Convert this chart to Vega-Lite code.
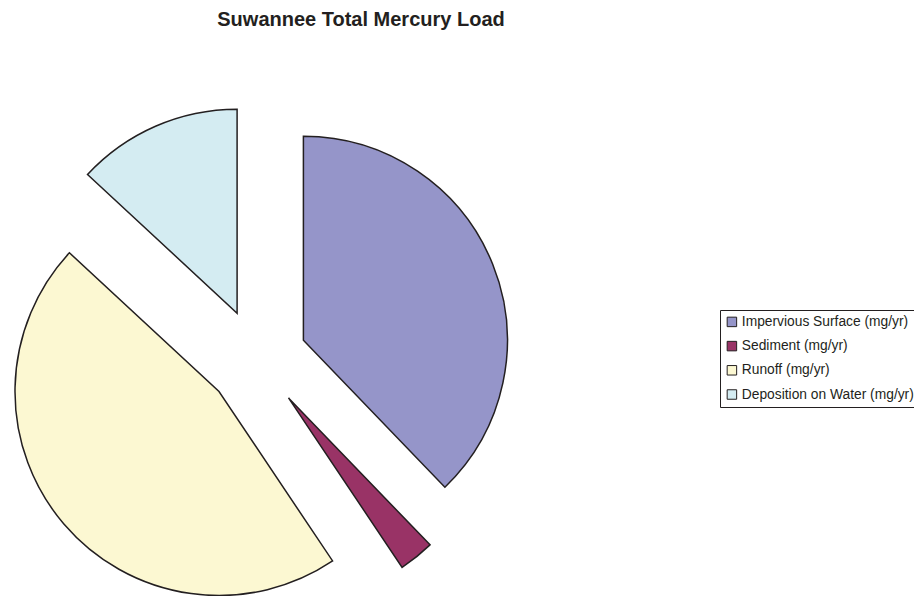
{
  "$schema": "https://vega.github.io/schema/vega-lite/v6.json",
  "autosize": "none",
  "width": 514,
  "height": 474,
  "padding": {"left": 0, "top": 122, "right": 400, "bottom": 0},
  "background": "white",
  "title": {
    "text": "Suwannee Total Mercury Load",
    "font": "Liberation Sans",
    "fontSize": 20,
    "fontWeight": "bold",
    "color": "#231f20",
    "anchor": "middle",
    "frame": "group",
    "baseline": "alphabetic",
    "offset": 60,
    "dx": 104
  },
  "data": {
    "values": [
      {"category": "Impervious Surface (mg/yr)", "value": 37.8, "order": 1},
      {"category": "Sediment (mg/yr)", "value": 2.8, "order": 2},
      {"category": "Runoff (mg/yr)", "value": 46.3, "order": 3},
      {"category": "Deposition on Water (mg/yr)", "value": 13.1, "order": 4}
    ]
  },
  "transform": [
    {"stack": "value", "groupby": [], "sort": [{"field": "order", "order": "ascending"}], "as": ["v0", "v1"]}
  ],
  "encoding": {
    "theta": {"field": "v0", "type": "quantitative", "scale": {"domain": [0, 100]}},
    "theta2": {"field": "v1"},
    "color": {
      "field": "category",
      "type": "nominal",
      "scale": {
        "domain": ["Impervious Surface (mg/yr)", "Sediment (mg/yr)", "Runoff (mg/yr)", "Deposition on Water (mg/yr)"],
        "range": ["#9595c9", "#993366", "#fcf8d2", "#d4ecf2"]
      },
      "legend": {
        "title": null,
        "orient": "none",
        "legendX": 720,
        "legendY": 188,
        "symbolType": "square",
        "symbolSize": 90,
        "symbolStrokeColor": "#231f20",
        "symbolStrokeWidth": 1,
        "labelFont": "Liberation Sans",
        "labelFontSize": 13.8,
        "labelColor": "#231f20",
        "labelOffset": 3,
        "rowPadding": 9.2,
        "padding": 5,
        "strokeColor": "#231f20",
        "labelLimit": 400
      }
    }
  },
  "layer": [
    {
      "transform": [{"filter": "datum.order == 1"}],
      "mark": {"type": "arc", "radius": 204, "stroke": "#231f20", "strokeWidth": 1.5, "xOffset": 46.4, "yOffset": -18.7}
    },
    {
      "transform": [{"filter": "datum.order == 2"}],
      "mark": {"type": "arc", "radius": 204, "stroke": "#231f20", "strokeWidth": 1.5, "xOffset": 31.5, "yOffset": 38.9}
    },
    {
      "transform": [{"filter": "datum.order == 3"}],
      "mark": {"type": "arc", "radius": 204, "stroke": "#231f20", "strokeWidth": 1.5, "xOffset": -38.0, "yOffset": 32.5}
    },
    {
      "transform": [{"filter": "datum.order == 4"}],
      "mark": {"type": "arc", "radius": 204, "stroke": "#231f20", "strokeWidth": 1.5, "xOffset": -19.9, "yOffset": -45.8}
    }
  ],
  "config": {"view": {"stroke": null}}
}
